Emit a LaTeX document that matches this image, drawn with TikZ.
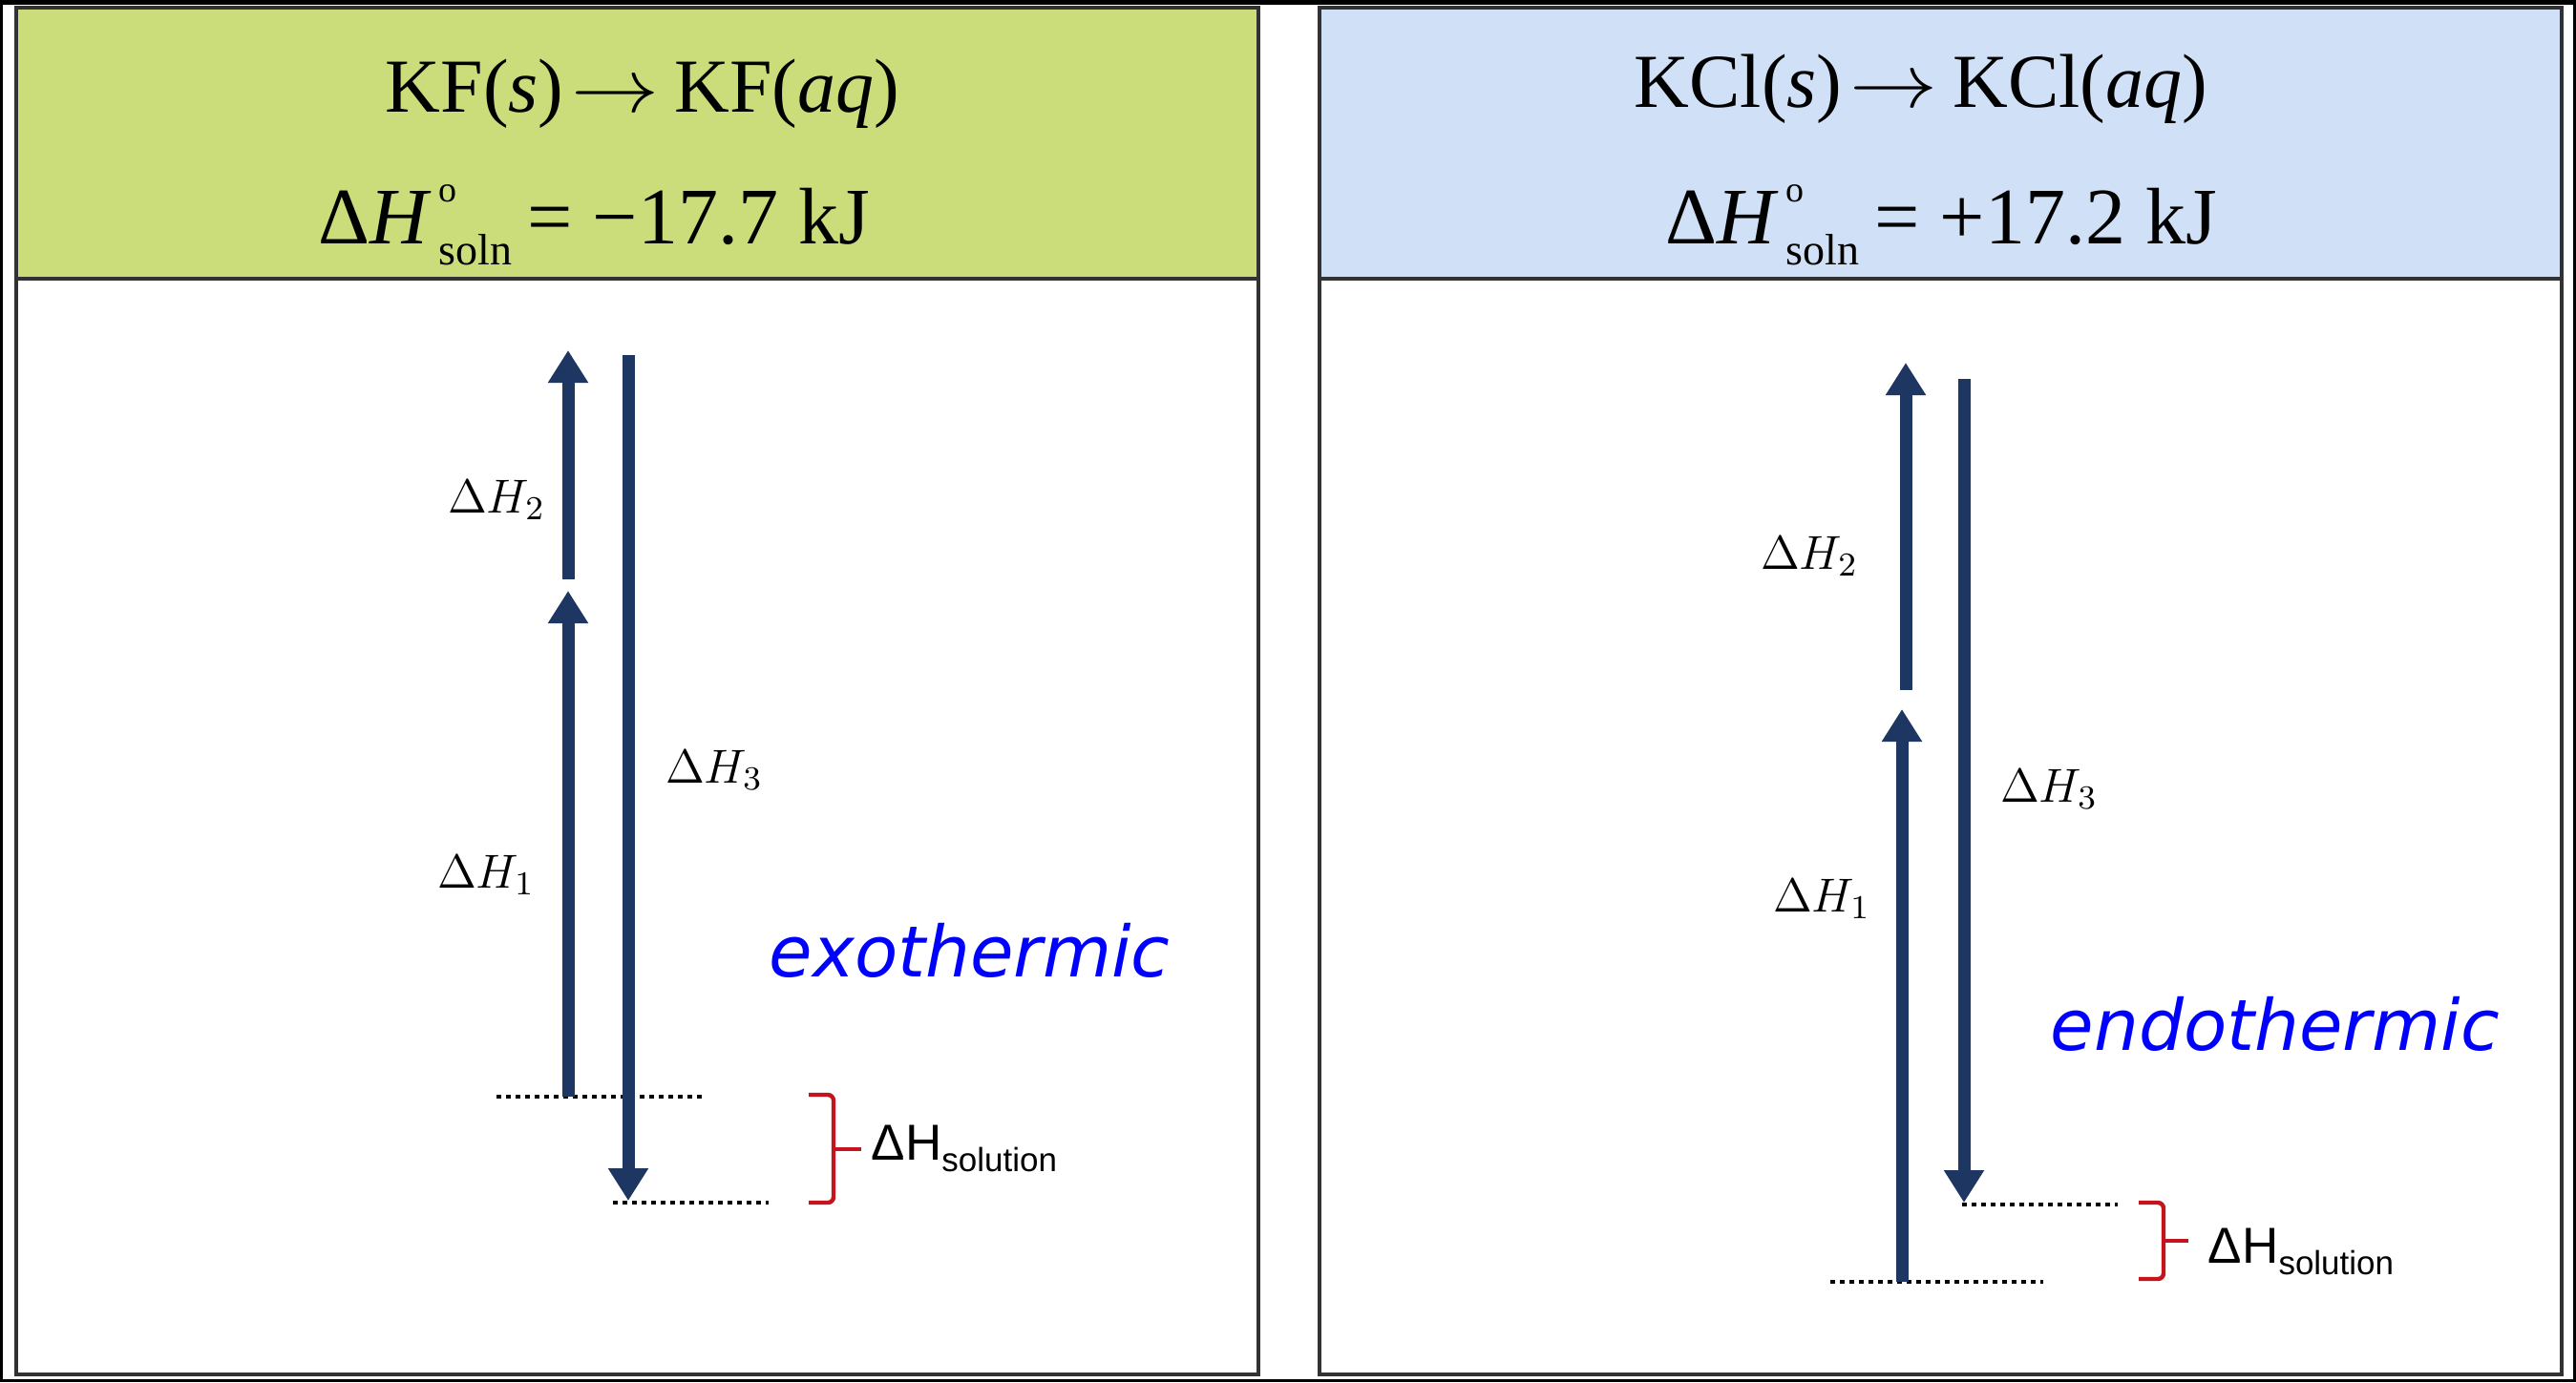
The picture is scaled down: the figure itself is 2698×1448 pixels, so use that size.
\RequirePackage{fix-cm}
\documentclass[tikz,border=0pt]{standalone}
\usepackage{fontspec}
\setmainfont{Liberation Serif}
\newfontfamily\lsans{Liberation Sans}
\newfontfamily\casual{DejaVu Sans}
\usetikzlibrary{arrows.meta}
\definecolor{navy}{RGB}{30,54,98}
\definecolor{hgreen}{RGB}{202,221,122}
\definecolor{hblue}{RGB}{208,224,246}
\definecolor{bred}{RGB}{196,20,30}
\definecolor{framecol}{RGB}{50,50,50}
\newcommand\dhsoln[1]{Δ\textit{H}\kern2pt\rlap{\raisebox{11pt}{\fontsize{9.5pt}{10pt}\selectfont o}}\raisebox{-5.5pt}{\fontsize{11.5pt}{12pt}\selectfont soln}\kern4pt= #1}
\newcommand\dhsolution{ΔH\raisebox{-3pt}{\fontsize{8.75pt}{10pt}\selectfont solution}}
\newcommand\yields{\kern2pt\scalebox{1.15}[1]{$\rightarrow$}\kern4pt}
\tikzset{
  panel/.style={draw=framecol, line width=1pt},
  enarrow/.style={navy, line width=3.25pt, -{Triangle[width=10pt,length=8.5pt]}},
  level/.style={black, line width=1.1pt, dash pattern=on 1.25pt off 1.25pt},
  bracket/.style={bred, line width=1.1pt, rounded corners=1.5pt},
  eqn/.style={anchor=base, inner sep=0pt, font=\fontsize{20pt}{24pt}\selectfont},
  eqnb/.style={anchor=base, inner sep=0pt, font=\fontsize{21pt}{25pt}\selectfont},
  dlabel/.style={anchor=base, inner sep=0pt, font=\fontsize{12.5pt}{15pt}\selectfont},
  sollabel/.style={anchor=base west, inner sep=0pt, font=\lsans\fontsize{13.25pt}{16pt}\selectfont},
  kind/.style={anchor=base west, inner sep=0pt, text=blue, font=\casual\itshape\fontsize{18.5pt}{22pt}\selectfont},
}
\begin{document}
\begin{tikzpicture}[x=0.25pt,y=-0.25pt]
\useasboundingbox (0,0) rectangle (2698,1448);
\fill[black] (0,0) rectangle (2698,1448);
\fill[white] (3,5) rectangle (2695,1445);
% ---------- left panel ----------
\fill[hgreen] (17,8) rectangle (1318,292);
\draw[panel] (17,8) rectangle (1318,1440);
\draw[panel] (17,292) -- (1318,292);
\node[eqn] (kfeq) at (673,117) {KF(\textit{s})\yields KF(\textit{aq})};
\node[eqnb] (kfdh) at (622,255) {\dhsoln{−17.7 kJ}};
\coordinate (l1s) at (595,1149); \coordinate (l1e) at (595,619);
\coordinate (l2s) at (595,607);  \coordinate (l2e) at (595,367);
\coordinate (l3s) at (658,372);  \coordinate (l3e) at (658,1258);
\coordinate (lua) at (520,1149); \coordinate (lub) at (740,1149);
\coordinate (lla) at (642,1260); \coordinate (llb) at (805,1260);
\draw[level] (lua) -- (lub);
\draw[level] (lla) -- (llb);
\draw[enarrow] (l1s) -- (l1e);
\draw[enarrow] (l2s) -- (l2e);
\draw[enarrow] (l3s) -- (l3e);
\node[dlabel] (ldh2) at (520,537) {$\Delta H_2$};
\node[dlabel] (ldh3) at (748,820) {$\Delta H_3$};
\node[dlabel] (ldh1) at (509,930) {$\Delta H_1$};
\draw[bracket] (847,1147) -- (873,1147) -- (873,1260) -- (847,1260);
\draw[bracket] (873,1204) -- (902,1204);
\node[sollabel] (lsol) at (912,1215) {\dhsolution};
\node[kind] (lexo) at (805,1023) {exothermic};
% ---------- right panel ----------
\fill[hblue] (1382,8) rectangle (2683,292);
\draw[panel] (1382,8) rectangle (2683,1440);
\draw[panel] (1382,292) -- (2683,292);
\node[eqn] (kcleq) at (2012,112) {KCl(\textit{s})\yields KCl(\textit{aq})};
\node[eqnb] (kcldh) at (2033,255) {\dhsoln{+17.2 kJ}};
\coordinate (r1s) at (1992,1343); \coordinate (r1e) at (1992,743);
\coordinate (r2s) at (1996,723);  \coordinate (r2e) at (1996,380);
\coordinate (r3s) at (2057,397);  \coordinate (r3e) at (2057,1260);
\coordinate (rua) at (2055,1262); \coordinate (rub) at (2218,1262);
\coordinate (rla) at (1917,1343); \coordinate (rlb) at (2140,1343);
\draw[level] (rua) -- (rub);
\draw[level] (rla) -- (rlb);
\draw[enarrow] (r1s) -- (r1e);
\draw[enarrow] (r2s) -- (r2e);
\draw[enarrow] (r3s) -- (r3e);
\node[dlabel] (rdh2) at (1895,596) {$\Delta H_2$};
\node[dlabel] (rdh3) at (2146,840) {$\Delta H_3$};
\node[dlabel] (rdh1) at (1908,955) {$\Delta H_1$};
\draw[bracket] (2240,1260) -- (2266,1260) -- (2266,1340) -- (2240,1340);
\draw[bracket] (2266,1300) -- (2292,1300);
\node[sollabel] (rsol) at (2312,1323) {\dhsolution};
\node[kind] (rendo) at (2147,1100) {endothermic};
\end{tikzpicture}
\end{document}
